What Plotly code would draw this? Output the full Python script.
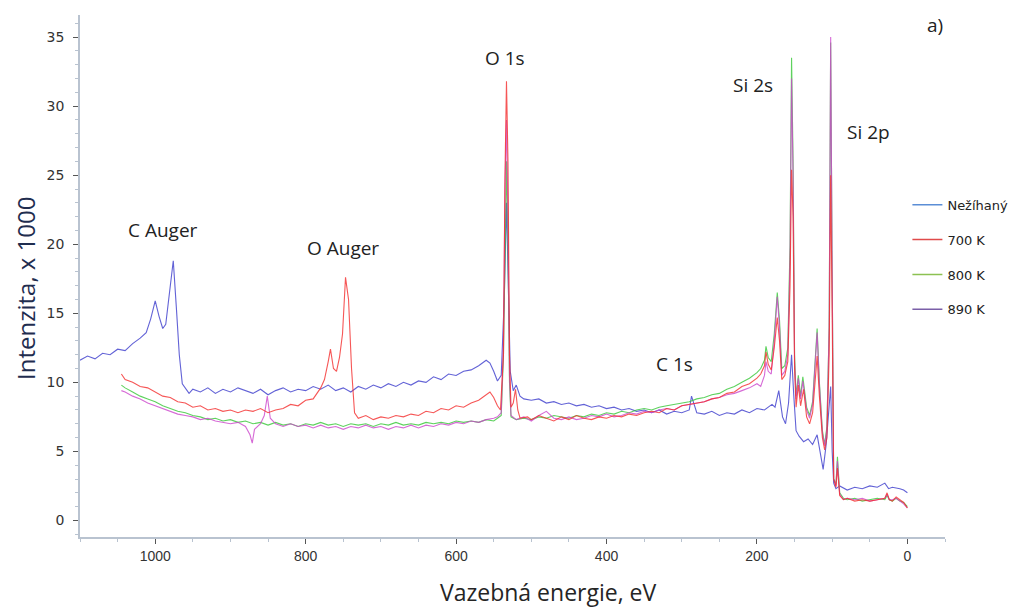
import plotly.graph_objects as go

# XPS survey spectra: binding energy (eV) vs. intensity (counts / 1000)

e_raw = [1100, 1090, 1080, 1070, 1060, 1050, 1040, 1030, 1020, 1012, 1006, 1000, 995, 990, 986,
         980, 976, 972, 968, 964, 960, 955, 950, 940, 930, 920, 910, 900, 890, 880, 870, 860,
         850, 840, 830, 820, 810, 800, 790, 780, 770, 760, 750, 740, 730, 720, 710, 700, 690,
         680, 670, 660, 650, 640, 630, 620, 610, 600, 590, 580, 570, 560, 555, 550, 545, 540,
         536, 533, 531, 528, 524, 520, 515, 510, 500, 490, 480, 470, 460, 450, 440, 430, 420,
         410, 400, 390, 380, 370, 360, 350, 340, 330, 320, 310, 300, 290, 287, 280, 270, 260,
         250, 240, 230, 220, 210, 200, 190, 180, 176, 171, 166, 162, 158, 154, 151, 148, 144,
         138, 132, 126, 120, 116, 112, 108, 104, 102, 100, 98, 95, 90, 80, 70, 60, 50, 40, 30,
         25, 20, 10, 5, 0]
i_raw = [11.6, 11.9, 11.7, 12.1, 12.0, 12.4, 12.3, 12.8, 13.2, 13.6, 14.6, 15.9, 14.8, 13.9, 14.2,
         17.0, 18.8, 15.5, 12.0, 9.9, 9.6, 9.2, 9.5, 9.3, 9.6, 9.2, 9.5, 9.3, 9.6, 9.4, 9.2, 9.5,
         9.1, 9.4, 9.6, 9.3, 9.5, 9.4, 9.7, 9.5, 9.8, 9.4, 9.6, 9.3, 9.7, 9.5, 9.8, 9.6, 9.9,
         9.7, 10.0, 9.8, 10.1, 10.0, 10.4, 10.2, 10.6, 10.5, 10.8, 10.9, 11.2, 11.6, 11.4, 10.8, 10.1, 10.5,
         16.0, 23.0, 18.0, 10.8, 9.4, 9.8, 9.0, 8.8, 8.7, 8.8, 8.5, 8.6, 8.4, 8.5, 8.3, 8.4, 8.2,
         8.3, 8.1, 8.2, 8.0, 8.1, 7.9, 8.0, 7.8, 8.0, 7.7, 7.9, 7.8, 8.0, 9.0, 7.8, 7.7, 7.9,
         7.6, 7.8, 7.7, 8.0, 7.8, 8.1, 8.0, 8.4, 8.2, 9.4, 7.5, 7.0, 8.5, 12.0, 9.0, 6.5, 6.1,
         5.7, 5.9, 5.5, 6.2, 4.8, 3.7, 5.5, 8.0, 9.7, 5.0, 2.7, 2.3, 2.5, 2.2, 2.4, 2.3, 2.5, 2.4, 2.7,
         2.3, 2.4, 2.3, 2.2, 2.0]

e_700 = [1045, 1040, 1030, 1020, 1010, 1000, 990, 980, 970, 960, 950, 940, 930, 920, 910, 900,
         890, 880, 870, 860, 850, 840, 830, 820, 810, 800, 790, 780, 775, 770, 767, 763, 759,
         755, 751, 747, 743, 739, 735, 730, 720, 710, 700, 690, 680, 670, 660, 650, 640, 630,
         620, 610, 600, 590, 580, 570, 560, 555, 550, 545, 541, 537, 535, 533, 531, 529, 527,
         524, 521, 518, 515, 505, 500, 490, 480, 470, 460, 450, 440, 430, 420, 410, 400, 390,
         380, 370, 360, 350, 340, 330, 320, 310, 300, 290, 280, 270, 260, 250, 240, 230, 220,
         210, 200, 195, 190, 188, 185, 181, 177, 173, 170, 167, 163, 159, 156, 154, 152, 150,
         148, 145, 142, 138, 134, 130, 126, 123, 120, 117, 113, 110, 107, 104, 102, 100, 98,
         95, 93, 90, 85, 80, 70, 60, 50, 40, 30, 27, 24, 20, 15, 10, 5, 0]
i_700 = [10.6, 10.2, 10.0, 9.7, 9.6, 9.3, 9.0, 8.9, 8.6, 8.5, 8.2, 8.3, 8.0, 8.1, 7.9, 8.0,
         7.8, 8.0, 7.9, 8.1, 7.8, 8.0, 8.1, 8.4, 8.3, 8.7, 8.8, 9.6, 10.2, 11.5, 12.4, 11.0, 10.8,
         11.8, 13.5, 17.6, 16.0, 11.0, 7.8, 7.4, 7.6, 7.3, 7.5, 7.4, 7.6, 7.5, 7.7, 7.6, 7.9, 7.8,
         8.1, 8.0, 8.3, 8.2, 8.5, 8.7, 9.1, 9.3, 8.9, 8.3, 8.0, 12.0, 25.0, 31.8, 26.0, 12.0, 8.2,
         8.5, 9.5, 8.0, 7.4, 7.5, 7.3, 7.6, 7.4, 7.2, 7.5, 7.3, 7.6, 7.4, 7.3, 7.5, 7.4, 7.6,
         7.5, 7.7, 7.6, 7.8, 7.9, 7.8, 8.1, 8.0, 8.3, 8.4, 8.5, 8.6, 8.8, 8.9, 9.2, 9.3, 9.7,
         9.9, 10.3, 10.6, 11.2, 12.2, 11.3, 10.9, 12.5, 14.7, 13.0, 10.2, 10.5, 11.5, 17.0, 25.4, 22.0, 11.0,
         8.2, 9.8, 8.3, 9.5, 7.5, 7.0, 7.8, 10.0, 11.9, 9.0, 6.0, 5.1, 6.0, 12.0, 25.0, 15.0, 3.0,
         2.4, 3.8, 1.8, 1.5, 1.6, 1.4, 1.5, 1.4, 1.5, 1.6, 2.0, 1.5, 1.4, 1.7, 1.5, 1.3, 0.9]

e_800 = [1045, 1040, 1030, 1020, 1010, 1000, 990, 980, 970, 960, 950, 940, 930, 920, 910, 900,
         890, 880, 870, 860, 850, 840, 830, 820, 810, 800, 790, 780, 770, 760, 750, 740, 730,
         720, 710, 700, 690, 680, 670, 660, 650, 640, 630, 620, 610, 600, 590, 580, 570, 560,
         550, 545, 540, 537, 535, 533, 531, 529, 527, 520, 510, 500, 490, 480, 470, 460, 450,
         440, 430, 420, 410, 400, 390, 380, 370, 360, 350, 340, 330, 320, 310, 300, 290, 280,
         270, 260, 250, 240, 230, 220, 210, 200, 195, 190, 188, 185, 181, 177, 173, 170, 167,
         163, 159, 156, 154, 152, 150, 148, 145, 142, 139, 134, 130, 126, 123, 120, 117, 113,
         110, 107, 104, 102, 100, 98, 95, 93, 90, 85, 80, 70, 60, 50, 40, 30, 27, 24, 20, 15,
         10, 5, 0]
i_800 = [9.8, 9.6, 9.3, 9.0, 8.8, 8.6, 8.3, 8.1, 7.9, 7.8, 7.6, 7.5, 7.3, 7.4, 7.2, 7.3,
         7.1, 7.2, 7.0, 7.1, 6.9, 7.1, 6.9, 7.0, 6.8, 7.0, 6.9, 7.1, 6.9, 7.0, 6.8, 7.0, 6.9,
         7.0, 6.8, 7.0, 6.9, 7.1, 6.9, 7.0, 6.9, 7.1, 7.0, 7.1, 7.0, 7.2, 7.1, 7.2, 7.1, 7.3,
         7.2, 7.4, 7.6, 12.0, 20.0, 26.0, 20.0, 10.0, 7.5, 7.3, 7.4, 7.3, 7.5, 7.4, 7.6, 7.5, 7.4,
         7.6, 7.5, 7.7, 7.6, 7.8, 7.7, 7.9, 7.8, 8.0, 8.1, 8.0, 8.2, 8.3, 8.4, 8.5, 8.6, 8.8,
         8.9, 9.1, 9.2, 9.5, 9.7, 10.0, 10.3, 10.7, 11.0, 11.6, 12.6, 11.8, 11.5, 13.5, 16.5, 14.5, 11.0,
         11.2, 12.5, 20.0, 33.5, 26.0, 12.0, 9.0, 10.5, 9.0, 10.4, 8.2, 7.6, 8.6, 11.0, 13.9, 10.0, 6.5,
         5.5, 6.8, 14.0, 34.6, 18.0, 3.0, 2.6, 4.6, 2.0, 1.6, 1.5, 1.6, 1.4, 1.5, 1.6, 1.5, 1.8, 1.5, 1.4, 1.6,
         1.4, 1.3, 1.0]

e_890 = [1045, 1040, 1030, 1020, 1010, 1000, 990, 980, 970, 960, 950, 940, 930, 920, 910, 900,
         890, 880, 874, 871, 868, 860, 855, 851, 847, 840, 830, 820, 810, 800, 790, 780, 770,
         760, 750, 740, 730, 720, 710, 700, 690, 680, 670, 660, 650, 640, 630, 620, 610, 600,
         590, 580, 570, 560, 550, 545, 540, 537, 535, 533, 531, 529, 527, 520, 510, 500, 490,
         480, 470, 460, 450, 440, 430, 420, 410, 400, 390, 380, 370, 360, 350, 340, 330, 320,
         310, 300, 290, 280, 270, 260, 250, 240, 230, 220, 210, 200, 195, 190, 188, 185, 181,
         177, 173, 170, 167, 163, 159, 156, 154, 152, 150, 148, 145, 142, 139, 134, 130, 126,
         123, 120, 117, 113, 110, 107, 104, 102, 100, 98, 95, 93, 90, 85, 80, 70, 60, 50, 40,
         30, 27, 24, 20, 15, 10, 5, 0]
i_890 = [9.4, 9.3, 9.0, 8.8, 8.5, 8.3, 8.1, 7.9, 7.7, 7.6, 7.5, 7.3, 7.4, 7.2, 7.1, 7.0,
         7.1, 6.8, 6.2, 5.6, 6.6, 7.0, 7.6, 9.0, 7.4, 7.0, 6.8, 7.0, 6.8, 6.9, 6.7, 6.9, 6.7,
         6.8, 6.6, 6.8, 6.7, 6.9, 6.7, 6.8, 6.6, 6.8, 6.7, 6.9, 6.7, 6.9, 6.8, 7.0, 6.9, 7.1,
         7.0, 7.2, 7.1, 7.3, 7.4, 7.5, 7.8, 13.0, 24.0, 29.0, 22.0, 10.5, 7.6, 7.3, 7.5, 7.2, 7.6,
         7.9, 7.4, 7.3, 7.5, 7.3, 7.4, 7.6, 7.5, 7.7, 7.5, 7.6, 7.8, 7.7, 7.9, 7.8, 8.0, 8.1,
         8.0, 8.3, 8.4, 8.5, 8.6, 8.8, 8.9, 9.1, 9.2, 9.4, 9.6, 9.9, 9.7, 10.5, 11.5, 10.8, 10.6,
         13.0, 16.2, 14.0, 10.5, 10.8, 12.0, 19.0, 32.0, 25.0, 11.5, 8.8, 10.3, 8.8, 10.1, 8.0, 7.4, 8.4,
         10.8, 13.6, 9.8, 6.3, 5.4, 6.6, 14.0, 35.0, 18.0, 3.0, 2.5, 4.3, 1.9, 1.5, 1.6, 1.5, 1.6, 1.4, 1.5,
         1.6, 1.9, 1.5, 1.5, 1.6, 1.4, 1.2, 0.9]

series_names = ["Nežíhaný", "700 K", "800 K", "890 K"]
line_colors = ["rgb(60,60,205)", "rgb(245,45,45)", "rgb(55,200,55)", "rgb(205,70,205)"]
legend_colors = ["#5b8ed6", "#e04a4a", "#8cc152", "#7a5fa8"]

peak_labels = ["O 1s", "Si 2s", "Si 2p", "C Auger", "O Auger", "C 1s", "a)"]
label_e = [535, 205, 52, 989, 751, 310, -37]
label_i = [33.5, 31.5, 28.1, 21.0, 19.7, 11.3, 35.9]

x_title = "Vazebná energie, eV"
y_title = "Intenzita, x 1000"

spectra = {
    "Nežíhaný": (e_raw, i_raw),
    "700 K": (e_700, i_700),
    "800 K": (e_800, i_800),
    "890 K": (e_890, i_890),
}

fig = go.Figure()

# drawing order keeps the 700 K curve on top, as in the survey overlay
for name in ["Nežíhaný", "800 K", "890 K", "700 K"]:
    k = series_names.index(name)
    ex, iy = spectra[name]
    fig.add_trace(go.Scatter(
        x=ex, y=iy, mode="lines", name=name, showlegend=False,
        line=dict(color=line_colors[k], width=1.1), opacity=0.8,
    ))

# legend entries
for k, name in enumerate(series_names):
    fig.add_trace(go.Scatter(
        x=[None], y=[None], mode="lines", name=name, legendgroup=name,
        line=dict(color=legend_colors[k], width=1.5),
    ))

for txt, ex, iy in zip(peak_labels, label_e, label_i):
    fig.add_annotation(x=ex, y=iy, text=txt, showarrow=False,
                       font=dict(family="Open Sans, Liberation Sans, sans-serif", size=19, color="#222"))

# axis titles
fig.add_annotation(xref="paper", yref="paper", x=0.542, y=-0.105, text=x_title,
                   showarrow=False, xanchor="center", yanchor="middle",
                   font=dict(family="Open Sans, sans-serif", size=23, color="#252525"))
fig.add_annotation(xref="paper", yref="paper", x=-0.0636, y=0.477, text=y_title,
                   showarrow=False, xanchor="center", yanchor="middle", textangle=-90,
                   font=dict(family="Open Sans, sans-serif", size=24, color="#1f2d4f"))

axis_line = "#b9c3d0"
fig.update_layout(
    width=1023, height=610,
    margin=dict(l=80, r=78, t=15, b=73, autoexpand=False),
    paper_bgcolor="white", plot_bgcolor="white",
    showlegend=True,
    legend=dict(xref="container", yref="container", x=0.887, y=0.689,
                xanchor="left", yanchor="top",
                font=dict(family="DejaVu Sans, sans-serif", size=13, color="#222"),
                tracegroupgap=15, itemwidth=30, bgcolor="rgba(0,0,0,0)"),
    xaxis=dict(
        range=[1100, -50], showgrid=False, zeroline=False,
        showline=True, linecolor=axis_line, linewidth=1.5,
        tickmode="array", tickvals=[1000, 800, 600, 400, 200, 0],
        ticks="outside", ticklen=5, tickcolor="#555",
        minor=dict(ticks="outside", ticklen=3, tickcolor=axis_line, dtick=50, tick0=0),
        tickfont=dict(family="Liberation Sans Narrow, Liberation Sans, sans-serif", size=14, color="#333"),
    ),
    yaxis=dict(
        range=[-1.2, 36.6], showgrid=False, zeroline=False,
        showline=True, linecolor=axis_line, linewidth=1.5,
        tickvals=[0, 5, 10, 15, 20, 25, 30, 35],
        ticks="outside", ticklen=5, tickcolor="#555", ticklabelstandoff=6,
        minor=dict(ticks="outside", ticklen=3, tickcolor=axis_line, dtick=1),
        tickfont=dict(family="DejaVu Sans, Verdana, sans-serif", size=14, color="#333"),
    ),
)

fig.write_html("out.html")
